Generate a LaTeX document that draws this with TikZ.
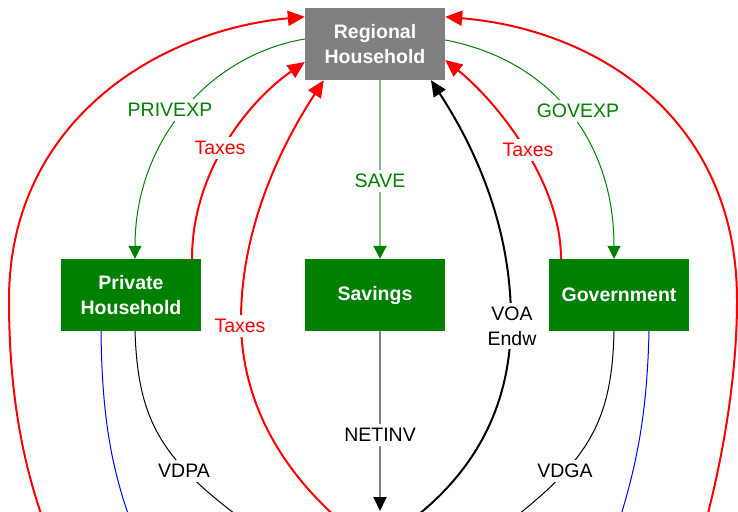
\documentclass[tikz,border=0pt]{standalone}
\usepackage{fontspec}
\setmainfont{Liberation Sans}
\usetikzlibrary{arrows.meta,calc}
\definecolor{dgreen}{HTML}{008000}
\definecolor{lgreen}{HTML}{7FBF7F}
\definecolor{boxgray}{HTML}{808080}
\begin{document}
\begin{tikzpicture}[x=1pt,y=-1pt,
  box/.style={draw=none, minimum width=140pt, minimum height=72pt, inner sep=0pt,
    text=white, font=\fontsize{19.5}{25}\selectfont\bfseries, align=center},
  lab/.style={fill=white, inner sep=4pt, font=\fontsize{19.5}{25}\selectfont},
  redline/.style={draw=red, line width=2pt, -{Triangle[length=17pt,width=15pt]}},
  greenthin/.style={draw=dgreen, line width=1pt, -{Triangle[length=13pt,width=13pt]}},
  saveline/.style={draw=lgreen, line width=2pt, -{Triangle[length=13pt,width=13pt,color=dgreen]}},
  netline/.style={draw=boxgray, line width=2pt, -{Triangle[length=14pt,width=13pt,color=black]}},
  blackthick/.style={draw=black, line width=2pt, -{Triangle[length=16pt,width=14pt]}},
  thinblack/.style={draw=black, line width=1pt},
  blueline/.style={draw=blue, line width=1pt}
]
\useasboundingbox (0,0) rectangle (738,511);
\clip (0,0) rectangle (738,511);

% nodes
\node[box,fill=boxgray] (rh) at (375,44) {Regional\\Household};
\node[box,fill=dgreen] (ph) at (131,295) {Private\\Household};
\node[box,fill=dgreen] (sv) at (375,295) {Savings};
\node[box,fill=dgreen] (gv) at (619,295) {Government};

% free ends below the frame
\coordinate (bL) at (45,525);
\coordinate (bR) at (705,525);
\coordinate (bM) at (345,525);
\coordinate (bV) at (405,525);
\coordinate (bN) at (380,511);
\coordinate (bP) at (250,525);
\coordinate (bPb) at (132,525);
\coordinate (bG) at (505,525);
\coordinate (bGb) at (618,525);

% connectors
\draw[redline] (bL) .. controls (25,470) and (9,400) .. (9,300)
  .. controls (9,120) and (160,30) .. ($(rh.north west)+(0,9)$);
\draw[redline] (bR) .. controls (722,460) and (737,380) .. (737,300)
  .. controls (737,120) and (600,30) .. ($(rh.north east)+(0,9)$);
\draw[redline] (bM) .. controls (280,470) and (241,400) .. (241,320)
  .. controls (241,220) and (288,135) .. ($(rh.south west)+(19,0)$);
\draw[redline] ($(ph.north)+(61,0)$) .. controls (192,170) and (250,100) .. ($(rh.west)+(0,18)$);
\draw[redline] ($(gv.north)+(-58,0)$) .. controls (561,180) and (495,100) .. ($(rh.east)+(0,16)$);

\draw[greenthin] ($(rh.west)+(0,-5)$) .. controls (210,55) and (135,140) .. ($(ph.north)+(4,0)$);
\draw[greenthin] ($(rh.east)+(0,-4)$) .. controls (550,60) and (614,140) .. ($(gv.north)+(-5,0)$);

\draw[saveline] ($(rh.south)+(5,0)$) -- ($(sv.north)+(5,0)$);
\draw[netline] ($(sv.south)+(5,0)$) -- (bN);

\draw[blackthick] (bV) .. controls (480,470) and (511,400) .. (511,320)
  .. controls (511,220) and (470,140) .. ($(rh.south)+(56,0)$);

\draw[thinblack] ($(ph.south)+(4,0)$) .. controls (138,420) and (160,460) .. (bP);
\draw[blueline] ($(ph.south)+(-30,0)$) .. controls (102,420) and (112,470) .. (bPb);
\draw[thinblack] ($(gv.south)+(-5,0)$) .. controls (612,420) and (590,460) .. (bG);
\draw[blueline] ($(gv.south)+(30,0)$) .. controls (647,420) and (635,470) .. (bGb);

% labels
\node[lab,text=dgreen] (lprivexp) at (170,110) {PRIVEXP};
\node[lab,text=red] (ltax1) at (220,148) {Taxes};
\node[lab,text=red] (ltax2) at (240,326) {Taxes};
\node[lab,text=dgreen] (lsave) at (380,181) {SAVE};
\node[lab,text=dgreen] (lgovexp) at (578,111) {GOVEXP};
\node[lab,text=red] (ltax3) at (528,150) {Taxes};
\node[lab,align=center] (lvoa) at (512,326) {VOA\\Endw};
\node[lab] (lnetinv) at (380,435) {NETINV};
\node[lab] (lvdpa) at (184,471) {VDPA};
\node[lab] (lvdga) at (565,471) {VDGA};
\end{tikzpicture}
\end{document}
